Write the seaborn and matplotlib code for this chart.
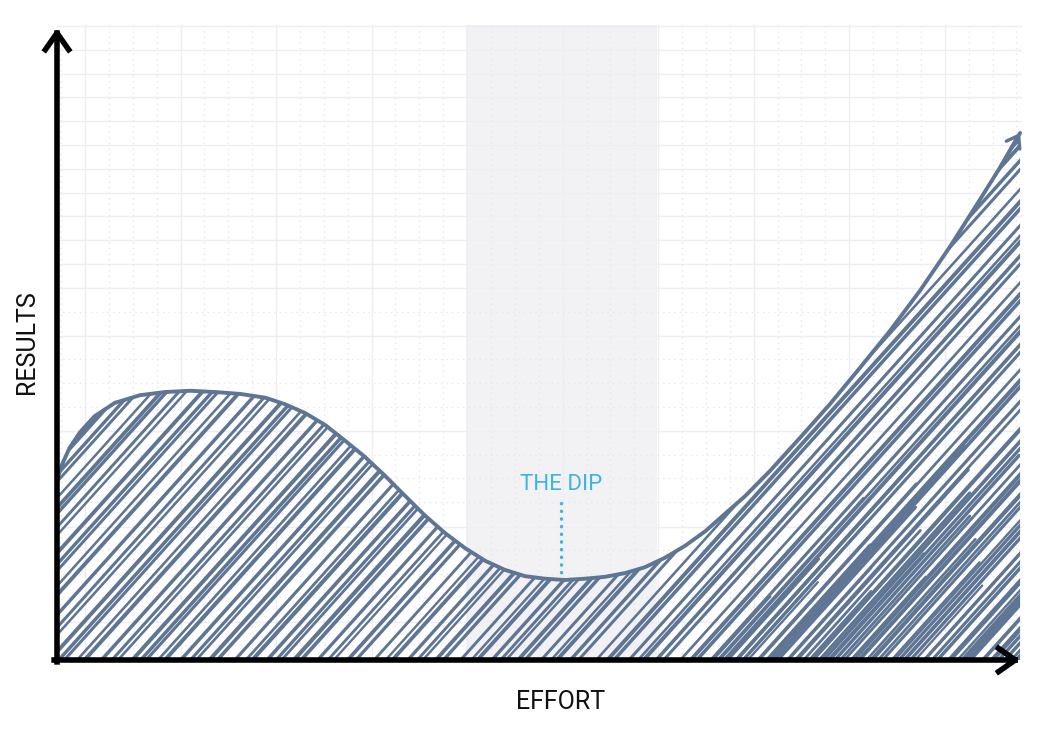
import numpy as np
import matplotlib
matplotlib.use("Agg")
import matplotlib.pyplot as plt
import seaborn as sns
from matplotlib.collections import LineCollection
from matplotlib.patches import PathPatch

# ---- data -------------------------------------------------------------
effort = [0.0, 0.5, 1.3, 2.4, 3.9, 6.0, 8.6, 11.2, 13.8, 16.4, 19.0, 21.6,
          23.6, 25.7, 27.8, 29.8, 31.9, 34.0, 36.1, 38.1, 40.2, 42.3, 44.4,
          46.4, 48.5, 50.6, 52.6, 54.7, 56.8, 58.9, 60.9, 63.0, 65.1, 67.2,
          69.2, 71.3, 73.9, 77.0, 80.1, 83.2, 86.3, 89.4, 92.5, 95.6, 97.7, 99.8]
results = [28.3, 30.7, 33.4, 35.9, 38.4, 40.5, 41.7, 42.2, 42.4, 42.2, 41.9, 41.3,
           40.3, 38.9, 37.0, 34.6, 32.0, 29.0, 25.8, 22.8, 20.0, 17.6, 15.6,
           14.2, 13.2, 12.8, 12.6, 12.8, 13.1, 13.7, 14.6, 16.1, 18.0, 20.3,
           23.0, 25.8, 29.8, 35.0, 40.3, 46.0, 51.8, 58.1, 65.0, 72.4, 77.5, 83.0]

dip_band = (42.4, 62.2)        # shaded stretch of effort
dip_x = 52.2                   # where the label points
dip_line = (24.7, 13.1)        # leader from label down to the curve
dip_label = "THE DIP"
x_label = "EFFORT"
y_label = "RESULTS"

# ---- style ------------------------------------------------------------
INK = "#5f7594"
BLUE = "#3cb5e5"
BAND = "#f2f2f5"
GRID = "#eeeef2"
GRID_DOT = "#e6e6ec"

sns.set_theme(style="white")
plt.rcParams["font.family"] = ["Roboto", "DejaVu Sans"]

fig = plt.figure(figsize=(10.43, 7.29), dpi=100)
ax = fig.add_axes([57 / 1043, 69 / 729, 965 / 1043, 635 / 729])
ax.set_xlim(0, 100)
ax.set_ylim(0, 100)
ax.set_axis_off()

# shaded band
ax.axvspan(*dip_band, color=BAND, zorder=0, lw=0)

# background grid paper
for gx in np.arange(2.9, 100, 9.9):
    ax.axvline(gx, color=GRID, lw=1.0, zorder=0.5)
for gx in np.arange(2.9 - 2.475, 100, 2.475):
    if abs(((gx - 2.9) / 9.9) - round((gx - 2.9) / 9.9)) > 0.05:
        ax.axvline(gx, color=GRID_DOT, lw=1.0, ls=(0, (1, 3)), zorder=0.5)
for gy in np.arange(58.6, 100.5, 3.75):
    ax.axhline(gy, color=GRID, lw=1.0, zorder=0.5)
for gy in [51.0, 36.0, 21.0, 6.0]:
    ax.axhline(gy, color=GRID, lw=1.0, zorder=0.5)
for gy in np.arange(54.85, 0, -3.75):
    if min(abs(gy - v) for v in [51.0, 36.0, 21.0, 6.0]) > 1.0:
        ax.axhline(gy, color=GRID_DOT, lw=1.0, ls=(0, (1, 3)), zorder=0.5)

# area under the curve used as the clip region for the pencil hatching
area = ax.fill_between(effort, results, 0, facecolor="none", edgecolor="none")
clip = PathPatch(area.get_paths()[0], transform=ax.transData,
                 facecolor="none", edgecolor="none")
ax.add_patch(clip)

slope = np.tan(np.radians(48)) * 9.65 / 6.35
phi = 0.6180339887
psi = 0.7548776662

# long strokes across the whole area
starts = []
c = -28.0
k = 0
while c < 100:
    starts.append(c)
    c += 0.55 + 1.35 * ((k * phi) % 1.0) ** 1.5
    k += 1
starts = np.array(starts)
idx = np.arange(len(starts))
segs = [[(s, 0), (s + 100 / slope, 100)] for s in starts]
widths = 1.7 + 1.3 * ((idx * psi) % 1.0)
lc = LineCollection(segs, colors=INK, linewidths=widths, zorder=3,
                    capstyle="round")
lc.set_clip_path(clip)
ax.add_collection(lc)

# short extra strokes that thicken the shading near the bottom right
short = []
c = 68.0
k = 0
while c < 100:
    h = 10 + 25 * ((k * phi) % 1.0)
    short.append([(c, 0), (c + h / slope, h)])
    c += 0.5 + 0.7 * ((k * psi) % 1.0)
    k += 1
lc2 = LineCollection(short, colors=INK,
                     linewidths=1.6 + 1.0 * ((np.arange(len(short)) * phi) % 1.0),
                     zorder=3, capstyle="round")
lc2.set_clip_path(clip)
ax.add_collection(lc2)

# the curve itself
sns.lineplot(x=effort, y=results, ax=ax, color=INK, linewidth=2.8,
             sort=False, estimator=None, zorder=5, solid_joinstyle="round",
             solid_capstyle="round")
ax.annotate("", xy=(effort[-1], results[-1]), xytext=(effort[-2], results[-2]),
            xycoords="data",
            arrowprops=dict(arrowstyle="->,head_length=0.4,head_width=0.28",
                            color=INK, lw=2.4, mutation_scale=20,
                            shrinkA=0, shrinkB=0),
            zorder=6, annotation_clip=False)

# the dip callout
ax.plot([dip_x, dip_x], list(dip_line), color=BLUE, lw=2.4,
        ls=(0, (0.1, 2.2)), dash_capstyle="round", zorder=6)
ax.text(dip_x, 27.6, dip_label, color=BLUE, ha="center", va="center",
        fontsize=16, zorder=6)

# axes drawn as arrows
arrow = dict(arrowstyle="->,head_length=0.6,head_width=0.42",
             color="black", lw=4.0, mutation_scale=20, shrinkA=0, shrinkB=0,
             capstyle="projecting")
ax.annotate("", xy=(0, 0.995), xytext=(0, -0.003), xycoords="axes fraction",
            arrowprops=arrow, annotation_clip=False, zorder=8)
ax.annotate("", xy=(0.998, 0), xytext=(-0.003, 0), xycoords="axes fraction",
            arrowprops=arrow, annotation_clip=False, zorder=8)

fig.text(561 / 1043, 1 - 702 / 729, x_label, ha="center", va="center",
         fontsize=18, color="#111111")
fig.text(27 / 1043, 1 - 342 / 729, y_label, ha="center", va="center",
         rotation=90, fontsize=18, color="#111111")

fig.savefig("out.png", dpi=100, facecolor="white")
